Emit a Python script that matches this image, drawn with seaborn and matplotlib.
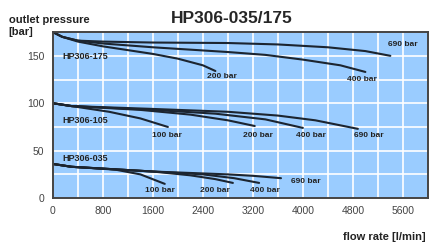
import numpy as np
import pandas as pd
import seaborn as sns
import matplotlib.pyplot as plt
from matplotlib.ticker import MultipleLocator

# flow rate [l/min] / outlet pressure [bar]
# HP306-175
flow_175_690 = [0, 150, 400, 800, 1600, 2800, 3600, 4400, 5000, 5400]
pres_175_690 = [175, 170, 166, 165, 164, 163.5, 162, 159, 155, 150]
flow_175_400 = [0, 150, 400, 800, 1600, 2800, 3400, 4000, 4600, 5000]
pres_175_400 = [175, 170, 166, 163, 159, 154, 151, 146, 140, 133]
flow_175_200 = [0, 150, 400, 800, 1600, 2000, 2400, 2600]
pres_175_200 = [175, 170, 165, 160, 152, 147, 140, 134]

# HP306-105
flow_105_690 = [0, 300, 1600, 2800, 3600, 4200, 4880]
pres_105_690 = [100, 97, 94, 91, 87, 82, 73]
flow_105_400 = [0, 300, 1600, 2600, 3400, 4000]
pres_105_400 = [100, 97, 93, 89, 83, 74]
flow_105_200 = [0, 300, 1400, 2200, 2800, 3230]
pres_105_200 = [100, 97, 93, 88, 82, 76]
flow_105_100 = [0, 300, 900, 1400, 1840]
pres_105_100 = [100, 97, 91, 84, 75]

# HP306-035
flow_035_690 = [0, 300, 1600, 2800, 3200, 3650]
pres_035_690 = [36, 33, 28, 25, 23.5, 21]
flow_035_400 = [0, 300, 1600, 2400, 2900, 3300]
pres_035_400 = [36, 33, 28, 25, 21, 16]
flow_035_200 = [0, 300, 1600, 2200, 2600, 2880]
pres_035_200 = [36, 33, 28, 24, 20, 16]
flow_035_100 = [0, 300, 1000, 1400, 1790]
pres_035_100 = [36, 33, 30, 25, 15]

curves = [
    ("HP306-175", "690 bar", flow_175_690, pres_175_690),
    ("HP306-175", "400 bar", flow_175_400, pres_175_400),
    ("HP306-175", "200 bar", flow_175_200, pres_175_200),
    ("HP306-105", "690 bar", flow_105_690, pres_105_690),
    ("HP306-105", "400 bar", flow_105_400, pres_105_400),
    ("HP306-105", "200 bar", flow_105_200, pres_105_200),
    ("HP306-105", "100 bar", flow_105_100, pres_105_100),
    ("HP306-035", "690 bar", flow_035_690, pres_035_690),
    ("HP306-035", "400 bar", flow_035_400, pres_035_400),
    ("HP306-035", "200 bar", flow_035_200, pres_035_200),
    ("HP306-035", "100 bar", flow_035_100, pres_035_100),
]

# label text, x, y
model_labels = [("HP306-175", 150, 149), ("HP306-105", 150, 82), ("HP306-035", 150, 42)]
curve_labels = [
    ("690 bar", 5600, 162), ("400 bar", 4950, 125), ("200 bar", 2700, 128),
    ("690 bar", 5050, 66), ("400 bar", 4130, 66), ("200 bar", 3280, 66), ("100 bar", 1820, 66),
    ("690 bar", 4050, 18), ("400 bar", 3400, 8), ("200 bar", 2600, 8), ("100 bar", 1720, 8),
]

df = pd.concat([pd.DataFrame({"model": m, "rating": r, "flow": f, "pressure": p})
                for m, r, f, p in curves], ignore_index=True)
df["curve"] = df["model"] + " " + df["rating"]

sns.set_style("white")
plt.rcParams['font.family'] = ['Liberation Sans', 'DejaVu Sans']

fig = plt.figure(figsize=(4.3, 2.47), dpi=100)
ax = fig.add_axes([0.123, 0.198, 0.872, 0.672])
ax.set_facecolor("#9accff")

for name, grp in df.groupby("curve", sort=False):
    sns.lineplot(data=grp, x="flow", y="pressure", sort=False, estimator=None,
                 color="#1c2530", linewidth=1.5, ax=ax)

ax.set_xlim(0, 6000)
ax.set_ylim(0, 175)
ax.xaxis.set_major_locator(MultipleLocator(800))
ax.yaxis.set_major_locator(MultipleLocator(50))
ax.xaxis.set_minor_locator(MultipleLocator(400))
ax.yaxis.set_minor_locator(MultipleLocator(25))
ax.grid(which="both", color="white", linewidth=1.2)
ax.set_axisbelow(True)
ax.tick_params(which="both", length=0, labelsize=7.5, colors="#444444", pad=6)
for s in ax.spines.values():
    s.set_color("#444444")
    s.set_linewidth(1.4)
ax.set_xlabel("")
ax.set_ylabel("")

for txt, x, y in model_labels:
    ax.text(x, y, txt, fontsize=6.5, fontweight="bold", color="#222222", ha="left", va="center")
for txt, x, y in curve_labels:
    ax.text(x, y, txt, fontsize=6, fontweight="bold", color="#222222", ha="center", va="center")

fig.text(0.54, 0.925, "HP306-035/175", fontsize=12.5, fontweight="bold", ha="center", va="center")
fig.text(0.02, 0.92, "outlet pressure", fontsize=8, fontweight="bold", color="#222222", va="center")
fig.text(0.02, 0.87, "[bar]", fontsize=8, fontweight="bold", color="#222222", va="center")
fig.text(0.99, 0.04, "flow rate [l/min]", fontsize=8, fontweight="bold", color="#222222",
         ha="right", va="center")

fig.savefig("out.png", dpi=100)
